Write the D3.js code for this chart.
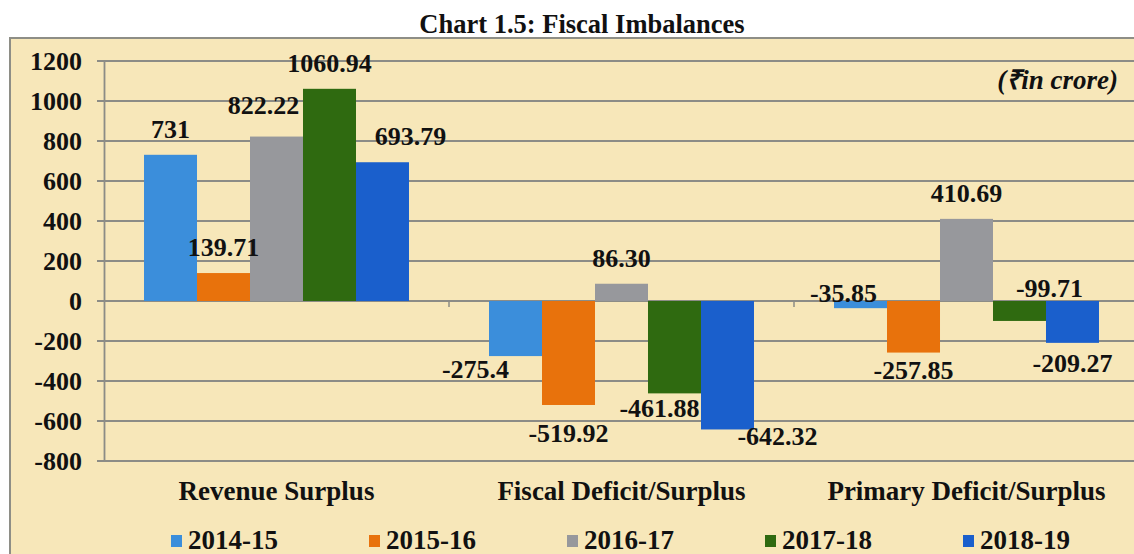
<!DOCTYPE html>
<html>
<head>
<meta charset="utf-8">
<script src="https://cdn.jsdelivr.net/npm/d3@7"></script>
<style>
  body { margin: 0; background: #fff; }
  text { font-family: "Liberation Serif", "Times New Roman", serif; font-weight: bold; fill: #111; }
</style>
</head>
<body>
<div class="chart"></div>
<script>
var categories = ['Revenue Surplus', 'Fiscal Deficit/Surplus', 'Primary Deficit/Surplus'];
var years = ['2014-15', '2015-16', '2016-17', '2017-18', '2018-19'];

// one array per year, ordered like categories
var v2014 = [731, -275.4, -35.85];
var v2015 = [139.71, -519.92, -257.85];
var v2016 = [822.22, 86.30, 410.69];
var v2017 = [1060.94, -461.88, -99.71];
var v2018 = [693.79, -642.32, -209.27];

var labels2014 = ['731', '-275.4', '-35.85'];
var labels2015 = ['139.71', '-519.92', '-257.85'];
var labels2016 = ['822.22', '86.30', '410.69'];
var labels2017 = ['1060.94', '-461.88', '-99.71'];
var labels2018 = ['693.79', '-642.32', '-209.27'];

var yTicks = [-800, -600, -400, -200, 0, 200, 400, 600, 800, 1000, 1200];

var colors = ['#3b8edb', '#e8720c', '#97989c', '#2f6a10', '#1a5fcc'];

var seriesValues = [v2014, v2015, v2016, v2017, v2018];
var seriesLabels = [labels2014, labels2015, labels2016, labels2017, labels2018];

// hand nudges for data labels, like the manually dragged ones in the original
var nudge = {
    '0|2': [-13, -6], '0|4': [28, 0],
    '1|0': [-40, 0], '1|1': [0, 15], '1|3': [-15, 2], '1|4': [50, -6],
    '2|0': [-17, 2], '2|1': [0, 4], '2|3': [30, -3], '2|4': [0, 7]
};

var fullWidth = 1134;
var fullHeight = 554;

var svg = d3.select('.chart')
            .append('svg')
            .attr('width', fullWidth)
            .attr('height', fullHeight);

// chart panel
svg.append('rect')
   .attr('x', 10)
   .attr('y', 38)
   .attr('width', 1140)
   .attr('height', 540)
   .attr('fill', '#f7e7b9')
   .attr('stroke', '#8e8e86')
   .attr('stroke-width', 2);

svg.append('text')
   .attr('x', 582)
   .attr('y', 33)
   .attr('text-anchor', 'middle')
   .style('font-size', '26.5px')
   .text('Chart 1.5: Fiscal Imbalances');

var left = 104, right = 1139;

var y = d3.scaleLinear()
          .domain([-800, 1200])
          .range([461, 61]);

var x0 = d3.scaleBand()
           .domain(categories)
           .range([left, right]);

var x1 = d3.scaleBand()
           .domain(years)
           .range([0, x0.bandwidth()])
           .paddingOuter(0.755);

// gridlines
svg.append('g')
   .selectAll('line')
   .data(yTicks)
   .enter().append('line')
   .attr('x1', left - 7)
   .attr('x2', right)
   .attr('y1', function (d) { return y(d); })
   .attr('y2', function (d) { return y(d); })
   .attr('stroke', '#8c8c86')
   .attr('stroke-width', 1.8);

// y axis
var yAxis = d3.axisLeft(y)
              .tickValues(yTicks)
              .tickFormat(function (d) { return String(d); })
              .tickSize(0)
              .tickPadding(22);

var yg = svg.append('g')
            .attr('transform', 'translate(' + left + ',0)')
            .call(yAxis)
            .attr('font-family', null)
            .attr('font-size', null);
yg.select('.domain').attr('stroke', '#8c8c86').attr('stroke-width', 1.8);
yg.selectAll('text')
  .style('font-size', '26px')
  .attr('fill', '#111')
  .attr('dy', '0.34em');

// category ticks on the zero line
svg.append('g')
   .selectAll('line')
   .data(categories.slice(1))
   .enter().append('line')
   .attr('x1', function (d) { return x0(d); })
   .attr('x2', function (d) { return x0(d); })
   .attr('y1', y(0))
   .attr('y2', y(0) + 6)
   .attr('stroke', '#8c8c86')
   .attr('stroke-width', 1.5);

// bars
var bars = [];
seriesValues.forEach(function (vals, s) {
    vals.forEach(function (v, c) {
        bars.push({ c: c, s: s, value: v, label: seriesLabels[s][c] });
    });
});

svg.append('g')
   .selectAll('rect')
   .data(bars)
   .enter().append('rect')
   .attr('x', function (d) { return x0(categories[d.c]) + x1(years[d.s]); })
   .attr('width', x1.bandwidth())
   .attr('y', function (d) { return y(Math.max(0, d.value)); })
   .attr('height', function (d) { return Math.abs(y(d.value) - y(0)); })
   .attr('fill', function (d) { return colors[d.s]; });

// data labels
svg.append('g')
   .selectAll('text')
   .data(bars)
   .enter().append('text')
   .attr('text-anchor', 'middle')
   .style('font-size', '26px')
   .attr('x', function (d) {
       var n = nudge[d.c + '|' + d.s] || [0, 0];
       return x0(categories[d.c]) + x1(years[d.s]) + x1.bandwidth() / 2 + n[0];
   })
   .attr('y', function (d) {
       var n = nudge[d.c + '|' + d.s] || [0, 0];
       var base;
       if (d.value >= 0) base = y(d.value) - 17;
       else if (d.value > -120) base = y(0) - 1;
       else base = y(d.value) + 22;
       return base + n[1];
   })
   .text(function (d) { return d.label; });

// category names
svg.append('g')
   .selectAll('text')
   .data(categories)
   .enter().append('text')
   .attr('x', function (d) { return x0(d) + x0.bandwidth() / 2; })
   .attr('y', 500)
   .attr('text-anchor', 'middle')
   .style('font-size', '27px')
   .text(function (d) { return d; });

// unit note
svg.append('text')
   .attr('x', 1118)
   .attr('y', 89)
   .attr('text-anchor', 'end')
   .style('font-size', '27px')
   .style('font-style', 'italic')
   .text('(\u20B9in crore)');

// legend
var legend = svg.append('g')
                .selectAll('g')
                .data(years)
                .enter().append('g')
                .attr('transform', function (d, i) { return 'translate(' + (171 + i * 198) + ',549)'; });

legend.append('rect')
      .attr('x', 0)
      .attr('y', -14)
      .attr('width', 11)
      .attr('height', 12)
      .attr('fill', function (d, i) { return colors[i]; });

legend.append('text')
      .attr('x', 17)
      .attr('y', 0)
      .style('font-size', '27px')
      .text(function (d) { return d; });
</script>
</body>
</html>
